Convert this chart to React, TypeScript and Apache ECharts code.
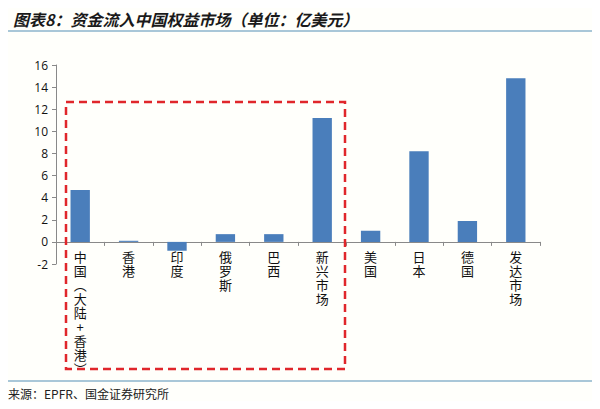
import React, { useEffect, useRef } from 'react';
import * as echarts from 'echarts';

const categories = [
  '中国（大陆+香港）',
  '香港',
  '印度',
  '俄罗斯',
  '巴西',
  '新兴市场',
  '美国',
  '日本',
  '德国',
  '发达市场'
];
const inflows = [4.7, 0.1, -0.8, 0.7, 0.7, 11.2, 1.0, 8.2, 1.9, 14.8];
const yMin = -2;
const yMax = 16;
const yStep = 2;

// 竖排标签：括号换成竖排形式
const verticalLabel = (s: string) =>
  s
    .replace('（', '︵')
    .replace('）', '︶')
    .split('')
    .join('\n');

const App: React.FC = () => {
  const chartRef = useRef<HTMLDivElement>(null);

  useEffect(() => {
    if (!chartRef.current) return;
    const chart = echarts.init(chartRef.current, undefined, { renderer: 'svg' });

    const option: echarts.EChartsOption = {
      animation: false,
      backgroundColor: '#fffffb',
      textStyle: { fontFamily: '"Noto Sans CJK SC", "Noto Sans", sans-serif' },
      title: {
        text: '图表8：资金流入中国权益市场（单位：亿美元）',
        left: 8,
        top: 6,
        textStyle: {
          fontSize: 16,
          fontWeight: 'bold',
          fontStyle: 'italic',
          color: '#1a1a1a',
          fontFamily: '"Noto Sans CJK SC", sans-serif'
        }
      },
      grid: {
        left: 56,
        right: 60,
        top: 65,
        bottom: 145,
        containLabel: false,
        outerBoundsMode: 'none'
      } as any,
      xAxis: {
        type: 'category',
        data: categories,
        axisLine: { onZero: true, lineStyle: { color: '#898989', width: 1 } },
        axisTick: { show: true, length: 4, lineStyle: { color: '#898989' } },
        axisLabel: {
          interval: 0,
          // 标签紧贴零轴，而不是网格底边
          margin: -15,
          color: '#111',
          fontSize: 13,
          lineHeight: 14,
          formatter: (v: string) => verticalLabel(v)
        }
      },
      yAxis: {
        type: 'value',
        min: yMin,
        max: yMax,
        interval: yStep,
        splitLine: { show: false },
        axisLine: { show: true, lineStyle: { color: '#898989' } },
        axisTick: { show: true, length: 4, lineStyle: { color: '#898989' } },
        axisLabel: {
          color: '#111',
          fontSize: 12,
          margin: 8,
          fontFamily: '"Open Sans", "Noto Sans", sans-serif'
        }
      },
      series: [
        {
          type: 'bar',
          data: inflows,
          barCategoryGap: '60%',
          itemStyle: { color: '#4a7ebb' }
        }
      ],
      graphic: [
        {
          type: 'line',
          shape: { x1: 8, y1: 31, x2: 592, y2: 31 },
          style: { stroke: '#8db4cc', lineWidth: 1.5 }
        },
        {
          type: 'line',
          shape: { x1: 8, y1: 381, x2: 592, y2: 381 },
          style: { stroke: '#8db4cc', lineWidth: 1.5 }
        },
        {
          type: 'rect',
          shape: { x: 66, y: 102, width: 279, height: 267 },
          style: {
            fill: 'none',
            stroke: '#e0262b',
            lineWidth: 2.5,
            lineDash: [8, 5]
          },
          z: 10
        },
        {
          type: 'text',
          x: 8,
          y: 387,
          style: {
            text: '来源：EPFR、国金证券研究所',
            fontSize: 12,
            fill: '#222',
            fontFamily: '"Noto Sans CJK SC", sans-serif'
          }
        }
      ]
    };

    chart.setOption(option);
    return () => chart.dispose();
  }, []);

  return <div ref={chartRef} style={{ width: 600, height: 409, margin: -8 }} />;
};

export default App;
